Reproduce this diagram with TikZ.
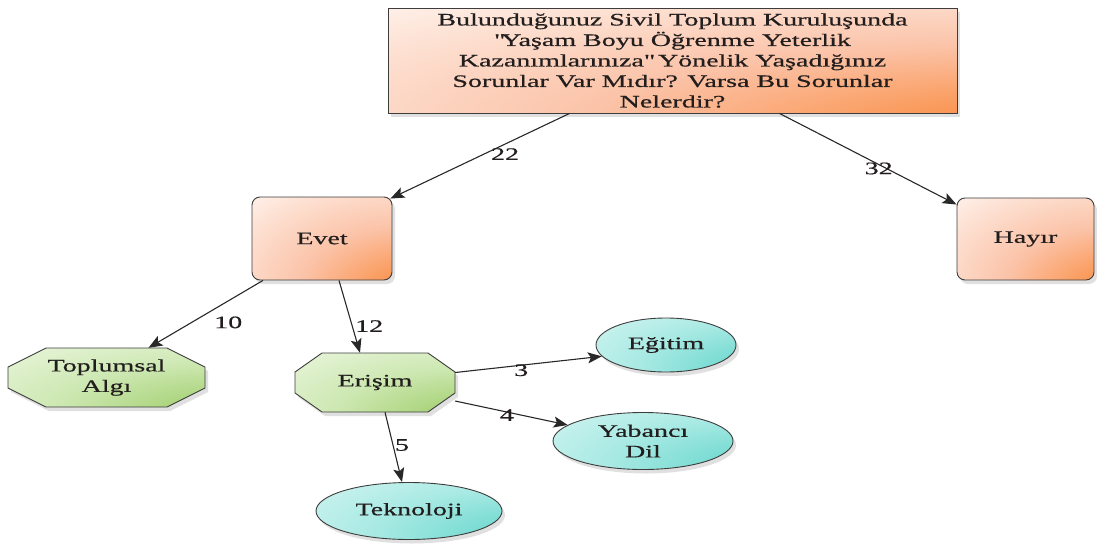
\documentclass[tikz,border=0pt]{standalone}
\usepackage{fontspec}
\setmainfont{Liberation Serif}[FakeBold=0.6, FakeStretch=1.6]
\usetikzlibrary{arrows.meta,shapes.geometric,shadows}
\definecolor{orangeD}{RGB}{250,135,55}
\definecolor{orangeM}{RGB}{251,195,168}
\definecolor{orangeL}{RGB}{255,248,244}
\definecolor{greenD}{RGB}{155,203,100}
\definecolor{greenM}{RGB}{205,232,178}
\definecolor{greenL}{RGB}{245,251,238}
\definecolor{cyanD}{RGB}{100,214,204}
\definecolor{cyanM}{RGB}{170,234,228}
\definecolor{cyanL}{RGB}{235,250,248}
\definecolor{edgec}{RGB}{40,40,40}
\definecolor{txt}{RGB}{35,30,30}
\pgfdeclareradialshading{orcorner}{\pgfpoint{42bp}{-42bp}}{%
  color(0bp)=(orangeD); color(10bp)=(orangeD); color(38bp)=(orangeM);
  color(72bp)=(orangeL); color(140bp)=(orangeL)}
\pgfdeclareradialshading{grcorner}{\pgfpoint{42bp}{-42bp}}{%
  color(0bp)=(greenD); color(12bp)=(greenD); color(42bp)=(greenM);
  color(78bp)=(greenL); color(140bp)=(greenL)}
\pgfdeclareradialshading{cycorner}{\pgfpoint{45bp}{-30bp}}{%
  color(0bp)=(cyanD); color(12bp)=(cyanD); color(42bp)=(cyanM);
  color(80bp)=(cyanL); color(140bp)=(cyanL)}
\begin{document}
\begin{tikzpicture}[x=1pt,y=-1pt,
  font=\fontsize{17.5}{20.5}\selectfont, text=txt,
  shad/.style={drop shadow={shadow xshift=3pt, shadow yshift=-4pt, opacity=0.2, fill=black!60}},
  base/.style={draw=edgec!90, line width=0.9pt, align=center, inner sep=2pt, shad},
  qbox/.style={base, rectangle, shading=orcorner},
  rbox/.style={qbox, rounded corners=8pt},
  octafill/.style={draw=edgec!90, line width=0.9pt, shading=grcorner, shad},
  octa/.style={rectangle, align=center, inner sep=0pt},
  oval/.style={base, ellipse, shading=cycorner},
  conn/.style={draw=edgec, line width=1.1pt, -{Stealth[length=14pt,width=11pt,inset=3pt]}},
  lbl/.style={text=txt, inner sep=1pt}
]
\useasboundingbox (0,0) rectangle (1097,544);

\node[qbox, minimum width=569pt, minimum height=105pt] (top) at (672.5,60.5)
  {Bulunduğunuz Sivil Toplum Kuruluşunda\\\textquotedbl Yaşam Boyu Öğrenme Yeterlik\\Kazanımlarınıza\textquotedbl{} Yönelik Yaşadığınız\\Sorunlar Var Mıdır? Varsa Bu Sorunlar\\Nelerdir?};
\node[rbox, minimum width=140pt, minimum height=83pt] (evet) at (322,238.5) {Evet};
\node[rbox, minimum width=137pt, minimum height=82pt] (hayir) at (1025.5,239) {Hayır};

% octagons
\path[octafill] (46,348) -- (167,348) -- (205,367) -- (205,388) -- (167,407)
  -- (46,407) -- (8,388) -- (8,367) -- cycle;
\node[octa, minimum width=197pt, minimum height=59pt] (toplum) at (106.5,377.5) {Toplumsal\\Algı};
\path[octafill] (322,353) -- (428,353) -- (455,372) -- (455,393) -- (428,412)
  -- (322,412) -- (295,393) -- (295,372) -- cycle;
\node[octa, minimum width=160pt, minimum height=59pt] (erisim) at (375,382.5) {Erişim};

\node[oval, minimum width=140pt, minimum height=54pt, inner sep=0pt] (egitim) at (666,345) {Eğitim};
\node[oval, minimum width=180pt, minimum height=57pt, inner sep=0pt] (yabanci) at (643,441) {Yabancı\\Dil};
\node[oval, minimum width=186pt, minimum height=57pt, inner sep=0pt] (tekno) at (409,511) {Teknoloji};

\draw[conn] ([xshift=-103pt]top.south) -- ([xshift=-2pt,yshift=-2pt]evet.north east)
  node[lbl, pos=0.36, yshift=-10pt] {22};
\draw[conn] ([xshift=107pt]top.south) -- ([yshift=-7pt]hayir.north west)
  node[lbl, pos=0.56, yshift=-4pt] {32};
\draw[conn] ([xshift=-59pt]evet.south) -- ([xshift=42pt]toplum.north)
  node[lbl, pos=0.4, xshift=11pt, yshift=-15pt] {10};
\draw[conn] ([xshift=17pt]evet.south) -- ([xshift=-15pt]erisim.north)
  node[lbl, pos=0.63, xshift=17pt] {12};
\draw[conn] ([yshift=10pt]erisim.east) -- (egitim.190)
  node[lbl, pos=0.45, yshift=-5pt] {3};
\draw[conn] (erisim.-13) -- (yabanci.168)
  node[lbl, pos=0.46, yshift=-3pt] {4};
\draw[conn] ([xshift=10pt]erisim.south) -- ([xshift=-7pt]tekno.north)
  node[lbl, pos=0.47, xshift=9pt] {5};
\end{tikzpicture}
\end{document}
